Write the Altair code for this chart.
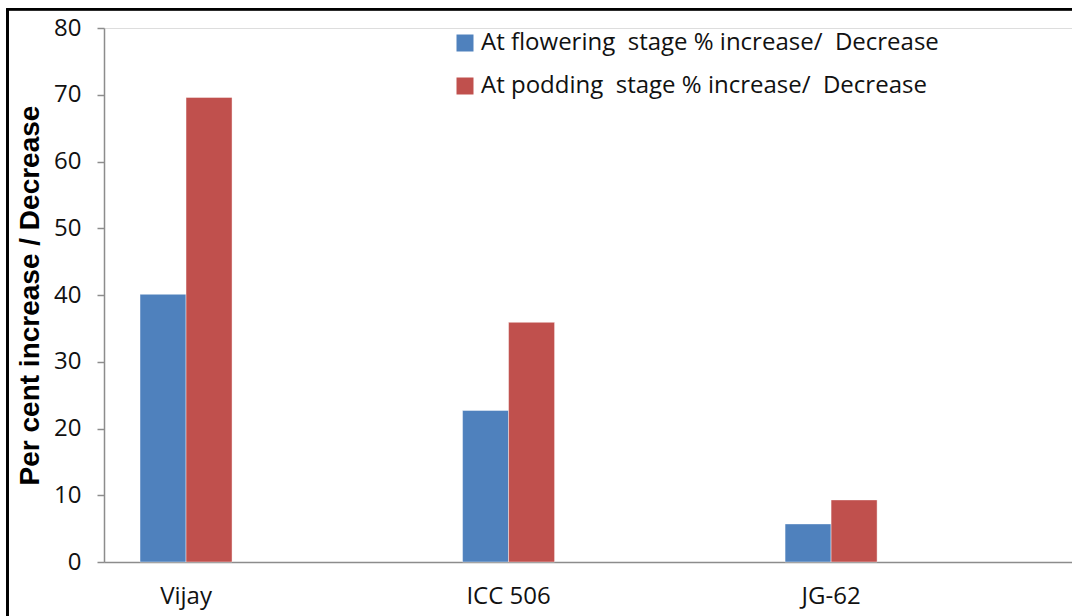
import altair as alt
import pandas as pd

categories = ["Vijay", "ICC 506", "JG-62"]
series_names = [
    "At flowering\u00a0 stage % increase/\u00a0 Decrease",
    "At podding\u00a0 stage % increase/\u00a0 Decrease",
]
flowering = [40.1, 22.7, 5.7]
podding = [69.6, 35.9, 9.3]
y_ticks = [0, 10, 20, 30, 40, 50, 60, 70, 80]
colors = ["#4F81BD", "#C0504D"]

rows = []
for c, f, p in zip(categories, flowering, podding):
    rows.append({"variety": c, "series": series_names[0], "value": f})
    rows.append({"variety": c, "series": series_names[1], "value": p})
df = pd.DataFrame(rows)

FONT = "Open Sans"

bars = alt.Chart(df).mark_bar(stroke="white", strokeWidth=0.6, strokeOpacity=0.7).encode(
    x=alt.X(
        "variety:N",
        sort=categories,
        scale=alt.Scale(paddingInner=0.7147, paddingOuter=0.358, align=0.156),
        axis=alt.Axis(
            title=None, labelAngle=0, ticks=False, tickSize=0, labelPadding=22,
            labelFont=FONT, labelFontSize=24, labelColor="#111111",
            domainColor="#8c8c8c", domainWidth=1.5,
        ),
    ),
    xOffset=alt.XOffset("series:N", sort=series_names),
    y=alt.Y(
        "value:Q",
        scale=alt.Scale(domain=[0, 80], nice=False),
        axis=alt.Axis(
            values=y_ticks, grid=False, tickSize=7, labelPadding=16,
            labelFont=FONT, labelFontSize=24, labelColor="#111111",
            domainColor="#8c8c8c", domainWidth=1.5, tickColor="#8c8c8c", tickWidth=1.5,
            title="Per cent increase / Decrease", titleFont="Liberation Sans",
            titleFontSize=28, titleFontWeight="bold", titleColor="#000000",
            titleX=-74, titleY=267, titleAlign="center", titleBaseline="middle", titleAngle=-90,
        ),
    ),
    color=alt.Color(
        "series:N",
        sort=series_names,
        scale=alt.Scale(domain=series_names, range=colors),
        legend=alt.Legend(
            title=None, orient="none", legendX=349, legendY=3,
            symbolType="square", symbolSize=289, symbolStrokeWidth=0,
            labelFont=FONT, labelFontSize=24, labelColor="#111111", labelLimit=0,
            labelOffset=4, rowPadding=19,
        ),
    ),
)

frame_left = alt.Chart(df).mark_rule(color="black", strokeWidth=2).encode(
    x=alt.value(-96.5), y=alt.value(-19), y2=alt.value(600)
)
frame_top = alt.Chart(df).mark_rule(color="black", strokeWidth=2).encode(
    x=alt.value(-97.5), x2=alt.value(980), y=alt.value(-18.7)
)

chart = alt.layer(bars, frame_left, frame_top).properties(
    width=968,
    height=534,
    autosize=alt.AutoSizeParams(type="none"),
    padding={"left": 104, "top": 28, "right": 0, "bottom": 54},
).configure_view(stroke=None).configure(background="white")

chart.save("out.html", embed_options={"renderer": "svg", "actions": False})
